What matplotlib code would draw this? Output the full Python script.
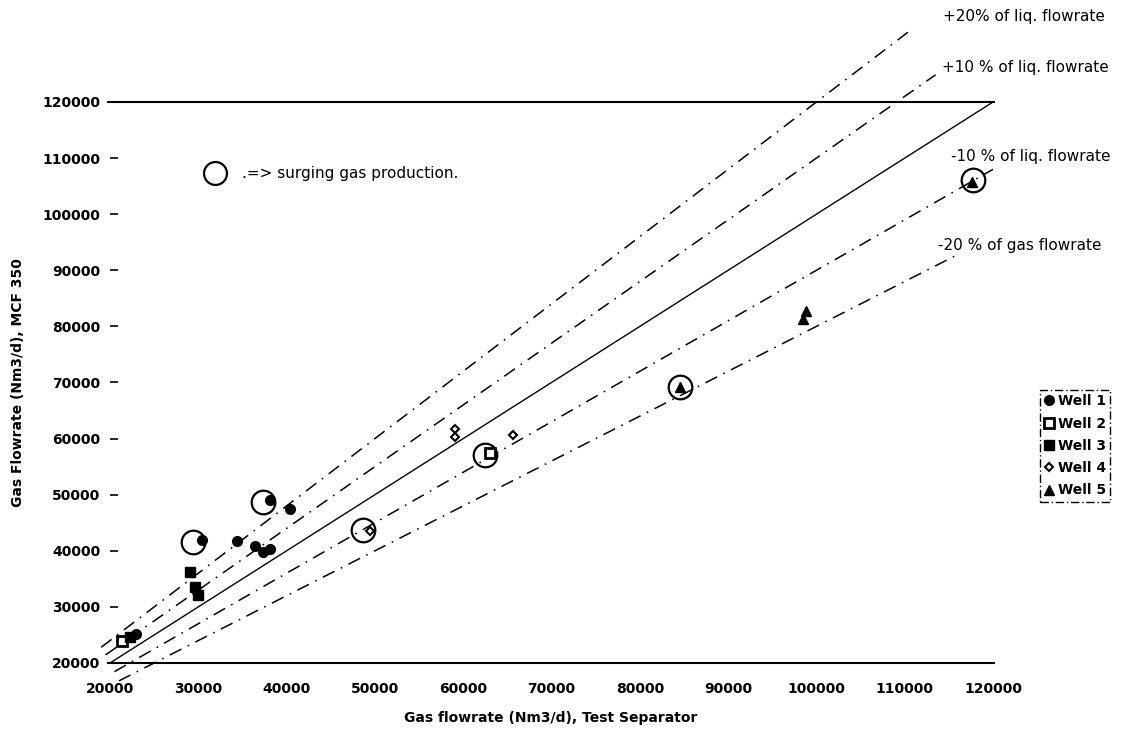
import matplotlib
matplotlib.use("Agg")
import matplotlib.pyplot as plt
import numpy as np

plt.rcParams['font.family'] = ['DejaVu Sans']
plt.rcParams['lines.scale_dashes'] = False

# data
well1_x = [30400, 34400, 36400, 37300, 38100, 38100, 40400, 23000]
well1_y = [41900, 41700, 40900, 39800, 40300, 49000, 47400, 25100]
well2_x = [21400, 63000]
well2_y = [23900, 57500]
well3_x = [29100, 29600, 30000, 22300]
well3_y = [36200, 33500, 32100, 24700]
well4_x = [49400, 59100, 59100, 65600]
well4_y = [43500, 61700, 60300, 60600]
well5_x = [84600, 98500, 98800, 117600]
well5_y = [69200, 81400, 82800, 105800]

# circled points (surging gas production)
surge_x = [29400, 37300, 48700, 62500, 84600, 117700]
surge_y = [41600, 48700, 43700, 57100, 69200, 106100]

# deviation lines: factor, x start, x end, label
dev_factor = [1.2, 1.1, 0.9, 0.8]
dev_x0 = [19000, 19500, 20500, 21000]
dev_x1 = [110500, 113500, 120000, 116000]
dev_label = ["+20% of liq. flowrate", "+10 % of liq. flowrate",
             "-10 % of liq. flowrate", "-20 % of gas flowrate"]
dev_label_x = [114300, 114200, 115300, 113800]
dev_label_y = [135200, 126100, 110200, 94500]

xticks = [20000, 30000, 40000, 50000, 60000, 70000, 80000, 90000, 100000, 110000, 120000]
yticks = [20000, 30000, 40000, 50000, 60000, 70000, 80000, 90000, 100000, 110000, 120000]

W, H = 1141, 737
fig = plt.figure(figsize=(W / 100, H / 100), dpi=100)

# pixel mapping of the original chart
px_x20, sx = 110, 0.00883   # px per unit
px_y20, sy = 663, 0.00561
xlim = (17000, 125000)
ylim = (15000, 137000)
left = px_x20 + (xlim[0] - 20000) * sx
right = px_x20 + (xlim[1] - 20000) * sx
bottom = px_y20 - (ylim[0] - 20000) * sy
top = px_y20 - (ylim[1] - 20000) * sy
ax = fig.add_axes([left / W, 1 - bottom / H, (right - left) / W, (bottom - top) / H])
ax.set_xlim(*xlim)
ax.set_ylim(*ylim)

for s in ['top', 'right']:
    ax.spines[s].set_visible(False)
ax.spines['left'].set_position(('data', 20000))
ax.spines['bottom'].set_position(('data', 20000))
ax.spines['left'].set_color('none')
ax.spines['bottom'].set_color('none')

ax.set_xticks(xticks)
ax.set_yticks(yticks)
ax.set_xticklabels([str(v) for v in xticks], fontsize=10, fontweight='bold')
ax.set_yticklabels([str(v) for v in yticks], fontsize=10, fontweight='bold')
ax.tick_params(axis='y', direction='in', length=5.8, width=1.2, pad=7)
ax.tick_params(axis='x', length=0, pad=14)

# frame lines at 20000 and 120000
ax.hlines([120000, 20000], 19700, 120200, colors='black', linewidth=1.5)

# 1:1 line
ax.plot([20000, 120000], [20000, 120000], color='black', linewidth=1.0)

for f, x0, x1, lab, lx, ly in zip(dev_factor, dev_x0, dev_x1, dev_label, dev_label_x, dev_label_y):
    xs = np.array([x0, x1])
    ax.plot(xs, xs * f, color='black', linewidth=1.1,
            linestyle=(0, (9.4, 5, 1.2, 5)))
    ax.text(lx, ly, lab, fontsize=11, ha='left', va='center')

ax.plot(surge_x, surge_y, linestyle='none', marker='o', markersize=17,
        markerfacecolor='none', markeredgecolor='black', markeredgewidth=1.6)

h1, = ax.plot(well1_x, well1_y, 'o', color='black', markersize=7, linestyle='none', label='Well 1')
h2, = ax.plot(well2_x, well2_y, 's', markerfacecolor='white', markeredgecolor='black',
              markeredgewidth=2, markersize=6.5, linestyle='none', label='Well 2')
h3, = ax.plot(well3_x, well3_y, 's', color='black', markersize=7, linestyle='none', label='Well 3')
h4, = ax.plot(well4_x, well4_y, 'D', markerfacecolor='white', markeredgecolor='black',
              markeredgewidth=1.5, markersize=4.5, linestyle='none', label='Well 4')
h5, = ax.plot(well5_x, well5_y, '^', color='black', markersize=7, linestyle='none', label='Well 5')

# key for circled points
ax.plot([31900], [107300], 'o', markersize=16.5, markerfacecolor='none',
        markeredgecolor='black', markeredgewidth=1.6)
ax.text(34900, 107300, ".=> surging gas production.", fontsize=11, ha='left', va='center')

leg = ax.legend(handles=[h1, h2, h3, h4, h5], loc='upper left',
                bbox_to_anchor=(1040 / W, 1 - 390 / H), bbox_transform=fig.transFigure,
                prop={'size': 10, 'weight': 'bold'}, fancybox=False, framealpha=1,
                edgecolor='black', handlelength=0.7, handletextpad=0.3,
                labelspacing=0.6, borderpad=0.3, borderaxespad=0)
leg.get_frame().set_linestyle((0, (6, 2, 1, 2)))
leg.get_frame().set_linewidth(1.0)

fig.text(551 / W, 1 - 718 / H, "Gas flowrate (Nm3/d), Test Separator",
         fontsize=10, fontweight='bold', ha='center', va='center')
fig.text(18 / W, 1 - 383 / H, "Gas Flowrate (Nm3/d), MCF 350",
         fontsize=10, fontweight='bold', ha='center', va='center', rotation=90)

fig.savefig("out.png", dpi=100)
